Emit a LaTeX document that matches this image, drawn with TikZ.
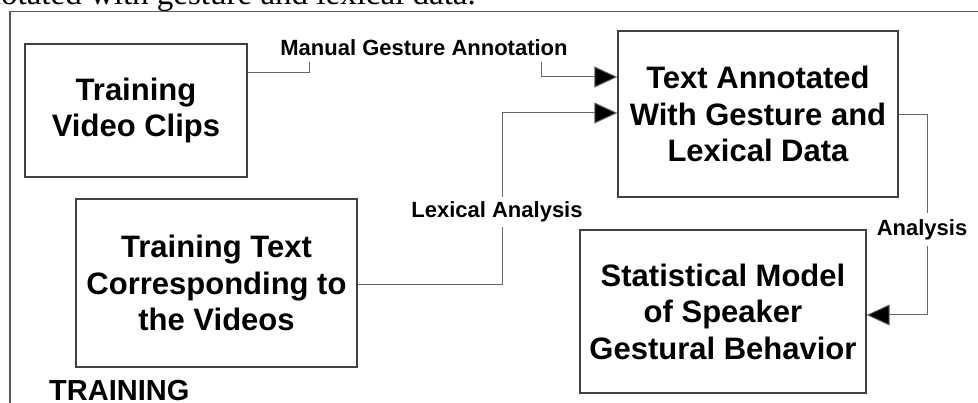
\documentclass[tikz,border=0pt]{standalone}
\usepackage{fontspec}
\setmainfont{Liberation Sans}
\newfontfamily\capserif{Liberation Serif}
\usetikzlibrary{arrows.meta}
\begin{document}
\begin{tikzpicture}[x=1pt,y=-1pt,
  box/.style={draw=black!75,line width=1.3pt,fill=white,align=center,inner sep=0pt,
    font=\fontsize{31}{36.5}\selectfont\bfseries},
  lbl/.style={font=\fontsize{22}{26}\selectfont\bfseries,inner sep=0pt},
  conn/.style={draw=black!60,line width=1pt},
  arr/.style={conn,-{Triangle[length=23pt,width=21pt,fill=black]}},
  frame/.style={draw=black!65,line width=1.4pt}]
\useasboundingbox (0,0) rectangle (978,403);
\clip (0,0) rectangle (978,403);
\fill[white] (0,0) rectangle (978,403);
% caption fragment
\node[anchor=base east,inner sep=0pt,font=\capserif\fontsize{33}{38}\selectfont] (cap) at (476,4.5) {notated with gesture and lexical data.};
% outer frame
\draw[frame] (10,410) -- (10,11.5) -- (985,11.5);
% boxes
\node[box,minimum width=222pt,minimum height=133pt] (b1) at (136,110.5) {Training\\Video Clips};
\node[box,minimum width=281pt,minimum height=168pt] (b2) at (216.5,283) {Training Text\\Corresponding to\\the Videos};
\node[box,minimum width=280pt,minimum height=166pt] (b3) at (758,114) {Text Annotated\\With Gesture and\\Lexical Data};
\node[box,minimum width=286pt,minimum height=163pt] (b4) at (723,311.5) {Statistical Model\\of Speaker\\Gestural Behavior};
% labels
\node[lbl] (lman) at (424,48) {Manual Gesture Annotation};
\node[lbl] (llex) at (497,212) {Lexical Analysis};
\node[lbl] (lana) at (922,230) {Analysis};
\node[anchor=base west,inner sep=0pt,font=\fontsize{29}{34}\selectfont\bfseries] (train) at (49,401) {TRAINING};
% coordinates
\coordinate (m1) at (309,62);
\coordinate (m2) at (541,62);
\coordinate (x1) at (502,197);
\coordinate (x2) at (502,227);
\coordinate (a1) at (927,213);
\coordinate (a2) at (927,246);
% connectors
\draw[conn] (b1.east |- 0,73) -| (m1);
\draw[arr] (m2) |- (b3.west |- 0,77);
\draw[conn] (b2.east |- 0,285) -| (x2);
\draw[arr] (x1) |- (b3.west |- 0,113);
\draw[conn] (b3.east |- 0,115) -| (a1);
\draw[arr] (a2) |- (b4.east |- 0,315);
\end{tikzpicture}
\end{document}
